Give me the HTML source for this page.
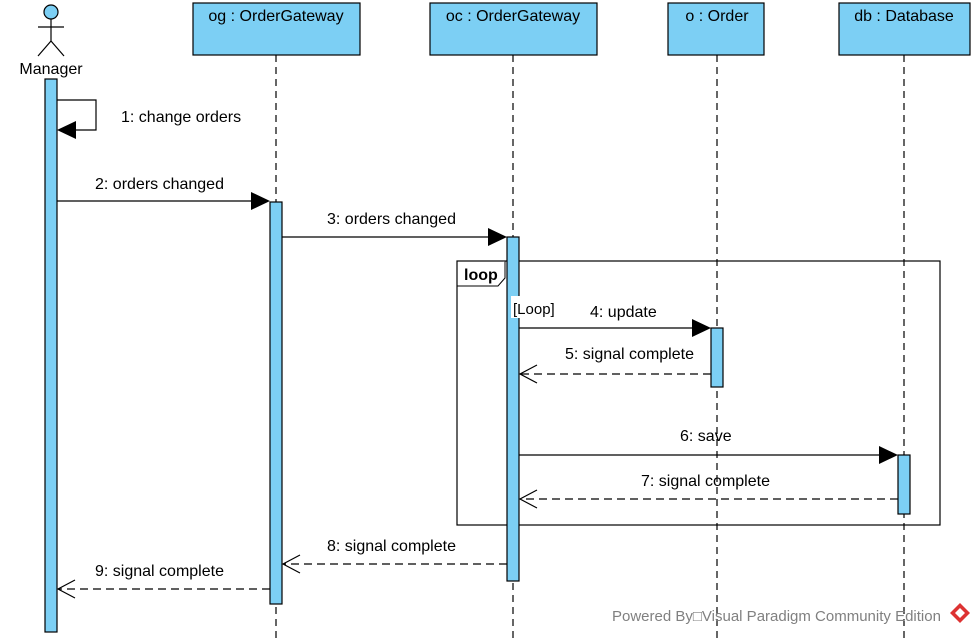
<!DOCTYPE html>
<html><head><meta charset="utf-8"><style>
html,body{margin:0;padding:0;background:#fff;}
svg{display:block;font-family:"Liberation Sans",Arial,sans-serif;}
</style></head><body>
<svg width="978" height="641" viewBox="0 0 978 641" xmlns="http://www.w3.org/2000/svg">
<g stroke="#000" stroke-width="1.2" fill="none" stroke-dasharray="7,5">
<line x1="276" y1="55" x2="276" y2="641"/>
<line x1="513" y1="55" x2="513" y2="641"/>
<line x1="717" y1="55" x2="717" y2="641"/>
<line x1="904" y1="55" x2="904" y2="641"/>
</g>
<g fill="#7ccff4" stroke="#000" stroke-width="1.2">
<rect x="193" y="3" width="167" height="52"/>
<rect x="430" y="3" width="167" height="52"/>
<rect x="668" y="3" width="96" height="52"/>
<rect x="839" y="3" width="131" height="52"/>
</g>
<g font-size="16" text-anchor="middle" fill="#000">
<text x="276" y="21">og : OrderGateway</text>
<text x="513" y="21">oc : OrderGateway</text>
<text x="717" y="21">o : Order</text>
<text x="904" y="21">db : Database</text>
</g>
<g stroke="#000" stroke-width="1.2">
<circle cx="51" cy="12" r="7" fill="#7ccff4"/>
<line x1="51" y1="19" x2="51" y2="41" fill="none"/>
<line x1="38" y1="27" x2="64" y2="27"/>
<line x1="51" y1="41" x2="38" y2="56"/>
<line x1="51" y1="41" x2="64" y2="56"/>
</g>
<text x="51" y="74" font-size="16" text-anchor="middle">Manager</text>
<rect x="457" y="261" width="483" height="264" fill="none" stroke="#000" stroke-width="1.2"/>
<path d="M457 286 H498 L505 278 V261" fill="#fff" stroke="#000" stroke-width="1"/>
<text x="464" y="280" font-size="16" font-weight="bold">loop</text>
<g fill="#7ccff4" stroke="#000" stroke-width="1.2">
<rect x="45" y="79" width="12" height="553"/>
<rect x="270" y="202" width="12" height="402"/>
<rect x="507" y="237" width="12" height="344"/>
<rect x="711" y="328" width="12" height="59"/>
<rect x="898" y="455" width="12" height="59"/>
</g>
<rect x="511" y="296" width="50" height="22" fill="#fff"/>
<text x="513" y="314" font-size="15">[Loop]</text>
<g stroke="#000" stroke-width="1.2" fill="none">
<polyline points="57,100 96,100 96,130 75,130"/>
<line x1="57" y1="201" x2="252" y2="201"/>
<line x1="282" y1="237" x2="489" y2="237"/>
<line x1="519" y1="328" x2="693" y2="328"/>
<line x1="519" y1="455" x2="880" y2="455"/>
</g>
<g fill="#000">
<polygon points="57,130 76,121 76,139"/>
<polygon points="270,201 251,192 251,210"/>
<polygon points="507,237 488,228 488,246"/>
<polygon points="711,328 692,319 692,337"/>
<polygon points="898,455 879,446 879,464"/>
</g>
<g stroke="#000" stroke-width="1.2" fill="none">
<g stroke-dasharray="8,5">
<line x1="711" y1="374" x2="521" y2="374"/>
<line x1="898" y1="499" x2="521" y2="499"/>
<line x1="507" y1="564" x2="284" y2="564"/>
<line x1="270" y1="589" x2="59" y2="589"/>
</g>
<polyline points="537,365 520,374 537,383"/>
<polyline points="537,490 520,499 537,508"/>
<polyline points="300,555 283,564 300,573"/>
<polyline points="75,580 58,589 75,598"/>
</g>
<g font-size="16" fill="#000">
<text x="121" y="122">1: change orders</text>
<text x="95" y="189">2: orders changed</text>
<text x="327" y="224">3: orders changed</text>
<text x="590" y="317">4: update</text>
<text x="565" y="359">5: signal complete</text>
<text x="680" y="441">6: save</text>
<text x="641" y="486">7: signal complete</text>
<text x="327" y="551">8: signal complete</text>
<text x="95" y="576">9: signal complete</text>
</g>
<text x="612" y="621" font-size="15" fill="#808080">Powered By□Visual Paradigm Community Edition</text>
<polygon points="960,603 970,613 960,623 950,613" fill="#d33"/>
<polygon points="960,608 965,613 960,618 955,613" fill="#fff"/>
</svg>
</body></html>
